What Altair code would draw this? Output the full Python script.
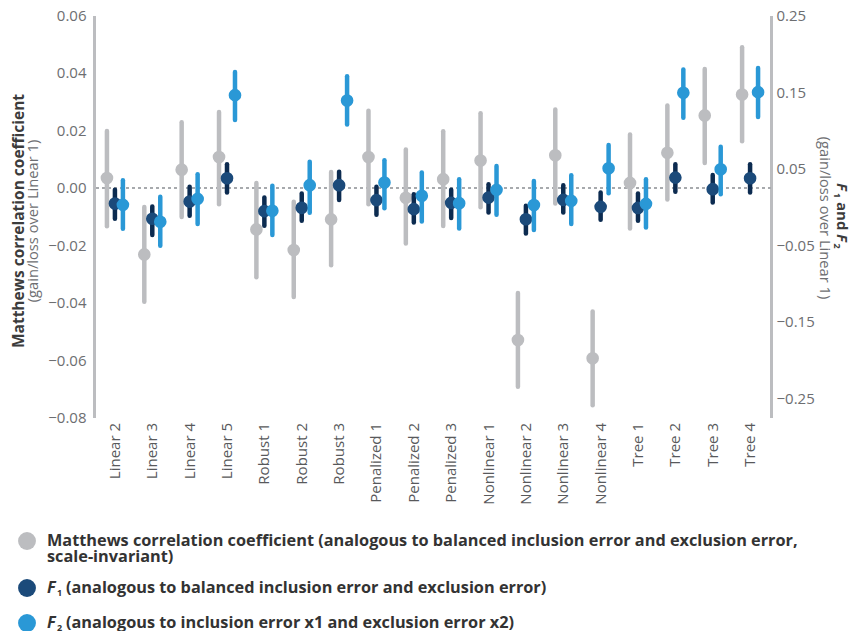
import altair as alt
import pandas as pd

categories = ["Linear 2", "Linear 3", "Linear 4", "Linear 5", "Robust 1", "Robust 2", "Robust 3",
              "Penalized 1", "Penalized 2", "Penalized 3", "Nonlinear 1", "Nonlinear 2",
              "Nonlinear 3", "Nonlinear 4", "Tree 1", "Tree 2", "Tree 3", "Tree 4"]

mcc = [0.0034, -0.0232, 0.0063, 0.0107, -0.0145, -0.0217, -0.0110, 0.0107, -0.0035, 0.0030,
       0.0095, -0.0530, 0.0113, -0.0594, 0.0017, 0.0122, 0.0252, 0.0325]
mcc_lo = [-0.0134, -0.0397, -0.0102, -0.0057, -0.0312, -0.0380, -0.0270, -0.0057, -0.0194, -0.0133,
          -0.0068, -0.0693, -0.0055, -0.0757, -0.0142, -0.0041, 0.0086, 0.0162]
mcc_hi = [0.0198, -0.0067, 0.0228, 0.0264, 0.0017, -0.0049, 0.0055, 0.0268, 0.0133, 0.0197,
          0.0260, -0.0366, 0.0273, -0.0431, 0.0186, 0.0287, 0.0414, 0.0489]

f1 = [0.0044, -0.0155, 0.0070, 0.0375, -0.0055, -0.0012, 0.0284, 0.0089, -0.0029, 0.0053,
      0.0122, -0.0161, 0.0092, 0.0001, -0.0013, 0.0383, 0.0232, 0.0375]
f1_lo = [-0.0155, -0.0366, -0.0116, 0.0188, -0.0246, -0.0180, 0.0092, -0.0103, -0.0203, -0.0146,
         -0.0073, -0.0346, -0.0073, -0.0168, -0.0181, 0.0197, 0.0057, 0.0188]
f1_hi = [0.0223, 0.0005, 0.0262, 0.0557, 0.0122, 0.0174, 0.0461, 0.0262, 0.0167, 0.0223,
         0.0297, 0.0014, 0.0284, 0.0188, 0.0174, 0.0557, 0.0418, 0.0557]

f2 = [0.0027, -0.0194, 0.0105, 0.1460, -0.0051, 0.0284, 0.1390, 0.0318, 0.0145, 0.0049,
      0.0223, 0.0025, 0.0079, 0.0505, 0.0040, 0.1490, 0.0492, 0.1499]
f2_lo = [-0.0285, -0.0506, -0.0224, 0.1134, -0.0367, -0.0077, 0.1078, -0.0016, -0.0190, -0.0281,
         -0.0103, -0.0302, -0.0224, 0.0180, -0.0268, 0.1164, 0.0167, 0.1173]
f2_hi = [0.0350, 0.0132, 0.0427, 0.1763, 0.0275, 0.0591, 0.1707, 0.0609, 0.0448, 0.0362,
         0.0535, 0.0340, 0.0414, 0.0809, 0.0362, 0.1794, 0.0786, 0.1815]

series_order = ["MCC", "F1", "F2"]
left_ticks = [-0.08, -0.06, -0.04, -0.02, 0.0, 0.02, 0.04, 0.06]
right_ticks = [-0.25, -0.15, -0.05, 0.05, 0.15, 0.25]

GREY = "#bcbdc0"
NAVY_FILL = "#1b4a7a"
NAVY_RULE = "#0c2b50"
BLUE = "#2a98d6"
FONT = "Open Sans"
TITLE_C = "#3c3c3c"
SUB_C = "#6d6e71"


def frame(name, v, lo, hi):
    return pd.DataFrame({"cat": categories, "series": name, "v": v, "lo": lo, "hi": hi})


df_mcc = frame("MCC", mcc, mcc_lo, mcc_hi)
df_f = pd.concat([frame("F1", f1, f1_lo, f1_hi), frame("F2", f2, f2_lo, f2_hi)], ignore_index=True)

X = alt.X("cat:N", sort=categories,
          scale=alt.Scale(domain=categories, paddingOuter=0.06, paddingInner=0),
          axis=alt.Axis(title=None, labelAngle=-90, domain=False, ticks=False, labelPadding=5,
                        labelFont=FONT, labelFontSize=15, labelColor="#58595b"))
XO = alt.XOffset("series:N", scale=alt.Scale(domain=series_order, paddingOuter=0.84, paddingInner=0))

stroke_scale = alt.Scale(domain=series_order, range=[GREY, NAVY_RULE, BLUE])
fill_scale = alt.Scale(domain=series_order, range=[GREY, NAVY_FILL, BLUE])

yl_scale = alt.Scale(domain=[-0.08, 0.06], nice=False, zero=False)
yr_scale = alt.Scale(domain=[-0.275, 0.25], nice=False, zero=False)

left_axis = alt.Axis(title=None, values=left_ticks, format=".2f", ticks=False, grid=False,
                     domainColor=GREY, domainWidth=3, labelPadding=8, labelFont=FONT,
                     labelFontSize=15, labelColor=SUB_C)
right_axis = alt.Axis(title=None, values=right_ticks, format=".2f", ticks=False, grid=False,
                      orient="right", domainColor=GREY, domainWidth=3, labelPadding=5,
                      labelFont=FONT, labelFontSize=15, labelColor=SUB_C)

zero_rule = alt.Chart(df_mcc).mark_rule(color="#a7a9ac", strokeDash=[3, 3], strokeWidth=1).encode(
    y=alt.Y(datum=0, scale=yl_scale, axis=left_axis))

mcc_rule = alt.Chart(df_mcc).mark_rule(strokeWidth=4.5, strokeCap="round").encode(
    x=X, xOffset=XO,
    y=alt.Y("lo:Q", scale=yl_scale, axis=left_axis), y2="hi:Q",
    stroke=alt.Stroke("series:N", scale=stroke_scale, legend=None))
mcc_pt = alt.Chart(df_mcc).mark_circle(size=160, opacity=1).encode(
    x=X, xOffset=XO, y=alt.Y("v:Q", scale=yl_scale, axis=left_axis),
    fill=alt.Fill("series:N", scale=fill_scale, legend=None))

left = alt.layer(zero_rule, mcc_rule, mcc_pt)


def f_layers(name):
    base = alt.Chart(df_f).transform_filter(alt.datum.series == name)
    r = base.mark_rule(strokeWidth=4.5, strokeCap="round").encode(
        x=X, xOffset=XO,
        y=alt.Y("lo:Q", scale=yr_scale, axis=right_axis), y2="hi:Q",
        stroke=alt.Stroke("series:N", scale=stroke_scale, legend=None))
    p = base.mark_circle(size=160, opacity=1).encode(
        x=X, xOffset=XO, y=alt.Y("v:Q", scale=yr_scale, axis=right_axis),
        fill=alt.Fill("series:N", scale=fill_scale, legend=None))
    return [r, p]


right = alt.layer(*(f_layers("F1") + f_layers("F2")))


def txt(s, x, y, size=16.3, weight="bold", style="normal", angle=0, align="left",
        baseline="middle", color="#333333"):
    return alt.Chart(pd.DataFrame({"t": [s]})).mark_text(
        font=FONT, fontSize=size, fontWeight=weight, fontStyle=style, angle=angle,
        align=align, baseline=baseline, color=color).encode(
        x=alt.value(x), y=alt.value(y), text="t:N")


def dot(x, y, color):
    return alt.Chart(pd.DataFrame({"t": [0]})).mark_circle(size=320, opacity=1, color=color).encode(
        x=alt.value(x), y=alt.value(y))


annotations = [
    # left axis titles
    txt("Matthews correlation coefficient", -75.5, 205.5, size=15.5, angle=270, align="center",
        color=TITLE_C),
    txt("(gain/loss over Linear 1)", -60, 205.5, size=14.7, weight="normal", angle=270,
        align="center", color=SUB_C),
    # right axis titles
    txt("(gain/loss over Linear 1)", 730, 202.5, size=14.7, weight="normal", angle=90,
        align="center", color=SUB_C),
    txt("F", 743, 167.5, size=15, style="italic", angle=90, baseline="alphabetic", color=TITLE_C),
    txt("1", 740, 177.5, size=9, angle=90, baseline="alphabetic", color=TITLE_C),
    txt("and", 743, 186.5, size=15, angle=90, baseline="alphabetic", color=TITLE_C),
    txt("F", 743, 218.5, size=15, style="italic", angle=90, baseline="alphabetic", color=TITLE_C),
    txt("2", 740, 228, size=9, angle=90, baseline="alphabetic", color=TITLE_C),
    # legend
    dot(-67, 525.5, GREY),
    dot(-67, 572.5, NAVY_FILL),
    dot(-67, 607.5, BLUE),
    txt("Matthews correlation coefficient (analogous to balanced inclusion error and exclusion error,",
        -47, 525.5),
    txt("scale-invariant)", -47, 541.5),
    txt("F", -47, 572.5, style="italic"),
    txt("1", -37, 577, size=9),
    txt("(analogous to balanced inclusion error and exclusion error)", -28, 572.5),
    txt("F", -47, 607.5, style="italic"),
    txt("2", -37, 612, size=9),
    txt("(analogous to inclusion error x1 and exclusion error x2)", -28, 607.5),
]

chart = alt.layer(left, right, *annotations).resolve_scale(y="independent").properties(
    width=677, height=402,
    autosize=alt.AutoSizeParams(type="none"),
    padding={"left": 86, "top": 7.5, "right": 79, "bottom": 213.5},
).configure_view(stroke=None)

chart.save("out.html", embed_options={"renderer": "svg", "actions": False})
